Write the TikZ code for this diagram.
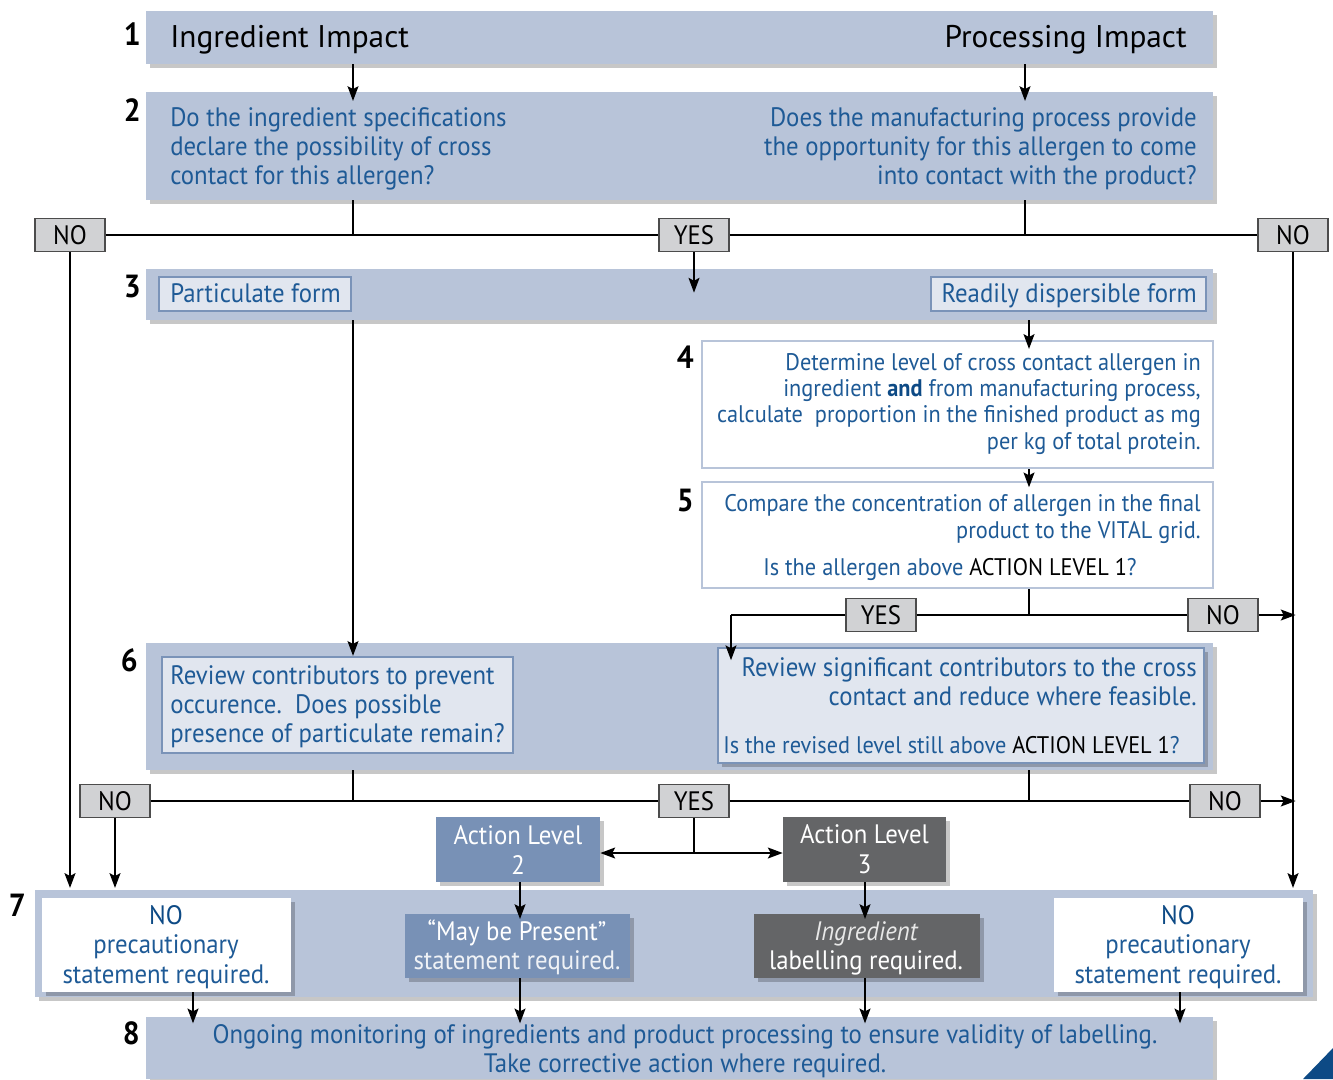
\documentclass[tikz,border=0pt]{standalone}
\usepackage{fontspec}
\setmainfont{PT Sans}
\newfontfamily\condf[FakeStretch=0.93]{PT Sans}
\usetikzlibrary{arrows.meta,shadows,fit}
\definecolor{bandc}{HTML}{B8C4D9}
\definecolor{tblue}{HTML}{1E5A96}
\definecolor{innerc}{HTML}{E1E6EF}
\definecolor{innerbc}{HTML}{7A93B8}
\definecolor{altwo}{HTML}{7891B6}
\definecolor{althree}{HTML}{646567}
\definecolor{ync}{HTML}{D1D2D4}
\definecolor{navy}{HTML}{0D4A85}
\tikzset{
  shad/.style={drop shadow={shadow xshift=3pt, shadow yshift=-3pt, opacity=0.22, fill=black}},
  band/.style={fill=bandc, inner sep=0pt, shad},
  ibox/.style={fill=innerc, draw=innerbc, line width=1.6pt, inner sep=0pt},
  wbox/.style={fill=white, draw=bandc, line width=2pt, inner sep=0pt},
  wsbox/.style={fill=white, inner sep=0pt, shad},
  ynbox/.style={fill=ync, draw=black!70, line width=0.8pt, inner sep=0pt, minimum width=52.5pt, minimum height=25pt, font=\condf\fontsize{20}{22}\selectfont},
  tx/.style={inner sep=0pt, text=tblue, font=\condf\fontsize{20}{21.75}\selectfont},
  txs/.style={inner sep=0pt, text=tblue, font=\condf\fontsize{18}{19.7}\selectfont},
  ttl/.style={inner sep=0pt, text=black, font=\fontsize{23.5}{26}\selectfont},
  num/.style={inner sep=0pt, anchor=base east, font=\condf\bfseries\fontsize{24}{25}\selectfont},
  ln/.style={line width=2pt, black},
  arr/.style={ln, -{Stealth[length=11pt,width=8pt,inset=2pt]}},
}
\begin{document}
\begin{tikzpicture}[x=0.75pt,y=-0.75pt]
\path[use as bounding box, fill=white] (0,0) rectangle (1333,1079);
% x guides
\coordinate (cL) at (353,0);
\coordinate (cR) at (1025,0);
\coordinate (cY) at (694,0);
\coordinate (cD) at (1029,0);
\coordinate (cS) at (731,0);
\coordinate (cA2) at (520,0);
\coordinate (cA3) at (865,0);
\coordinate (cW1) at (193,0);
\coordinate (cW2) at (1180,0);
\coordinate (r615) at (0,615);
\coordinate (r853) at (0,853);
\coordinate (r888) at (0,888);

% bands
\node[band, fit={(146,11)(1213,64)}] (b1) {};
\node[band, fit={(146,92)(1213,200)}] (b2) {};
\node[band, fit={(146,269)(1213,320)}] (b3) {};
\node[band, fit={(146,643)(1213,770)}] (b6) {};
\node[band, fit={(35,890)(1313,997)}] (b7) {};
\node[band, fit={(146,1017)(1213,1079)}] (b8) {};

% numbers
\node[num] (n1) at (141,45) {1};
\node[num] (n2) at (141,121) {2};
\node[num] (n3) at (141,297) {3};
\node[num] (n4) at (694,368) {4};
\node[num] (n5) at (694,511) {5};
\node[num] (n6) at (138,671) {6};
\node[num] (n7) at (26,916) {7};
\node[num] (n8) at (140,1044) {8};

% step 1
\node[ttl, anchor=base west] (t1l) at (170,47) {Ingredient Impact};
\node[ttl, anchor=base east] (t1r) at (1187,47) {Processing Impact};

% step 2 (anchor = baseline of last line)
\node[tx, anchor=base west, align=left] (t2l) at (170,184) {Do the ingredient specifications\\declare the possibility of cross\\contact for this allergen?};
\node[tx, anchor=base east, align=right] (t2r) at (1197,184) {Does the manufacturing process provide\\the opportunity for this allergen to come\\into contact with the product?};

% step 3
\node[ibox, fit={(159,277)(351,311)}] (pf) {};
\node[tx, anchor=base west] (pft) at (170,302) {Particulate form};
\node[ibox, fit={(931,277)(1206,311)}] (rd) {};
\node[tx, anchor=base east] (rdt) at (1197,302) {Readily dispersible form};

% step 4
\node[wbox, fit={(702,341)(1213,468)}] (b4) {};
\node[txs, anchor=base east, align=right] (t4) at (1201,449) {Determine level of cross contact allergen in\\ingredient {\bfseries\color{navy}and} from manufacturing process,\\calculate\ \ proportion in the finished product as mg\\per kg of total protein.};

% step 5
\node[wbox, fit={(702,482)(1213,588)}] (b5) {};
\node[txs, anchor=base east, align=right] (t5) at (1201,538) {Compare the concentration of allergen in the final\\product to the VITAL grid.};
\node[txs, anchor=base] (t5q) at (950,575) {Is the allergen above {\color{black}ACTION LEVEL 1}?};

% step 6
\node[ibox, fit={(162,657)(513,753)}] (r6l) {};
\node[tx, anchor=base west, align=left] (t6l) at (170,742) {Review contributors to prevent\\occurence.\ \ Does possible\\presence of particulate remain?};
\node[ibox, shad, fit={(718,648)(1204,763)}] (r6r) {};
\node[tx, anchor=base east, align=right] (t6r) at (1197,705) {Review significant contributors to the cross\\contact and reduce where feasible.};
\node[txs, anchor=base west] (t6q) at (723,753) {Is the revised level still above {\color{black}ACTION LEVEL 1}?};

% action levels
\node[fill=altwo, shad, inner sep=0pt, fit={(436,817)(600,882)}] (al2) {};
\node[tx, text=white, align=center, font=\condf\fontsize{20}{22.5}\selectfont] (al2t) at (al2.center) {Action Level\\2};
\node[fill=althree, shad, inner sep=0pt, fit={(783,817)(946,882)}] (al3) {};
\node[tx, text=white, align=center, font=\condf\fontsize{20}{22.5}\selectfont] (al3t) at (al3.center) {Action Level\\3};

% step 7
\node[wsbox, fit={(42,898)(291,992)}] (w1) {};
\node[tx, anchor=base, align=center, font=\condf\fontsize{20}{22.1}\selectfont] (w1t) at (166,983) {{\color{navy}NO}\\precautionary\\statement required.};
\node[wsbox, fit={(1054,898)(1303,992)}] (w2) {};
\node[tx, anchor=base, align=center, font=\condf\fontsize{20}{22.1}\selectfont] (w2t) at (1178,983) {{\color{navy}NO}\\precautionary\\statement required.};
\node[fill=altwo, shad, inner sep=0pt, fit={(405,914)(630,978)}] (mp) {};
\node[tx, text=white, anchor=base, align=center, font=\condf\fontsize{20}{21.75}\selectfont] (mpt) at (517,969) {\char"201C May be Present\char"201D\\{\color{white!88!altwo}statement required.}};
\node[fill=althree, shad, inner sep=0pt, fit={(754,914)(980,978)}] (ig) {};
\node[tx, text=white, anchor=base, align=center, font=\condf\fontsize{20}{21.75}\selectfont] (igt) at (866,969) {{\color{white!85!althree}\itshape Ingredient}\\labelling required.};

% step 8
\node[tx, anchor=base, align=center] (t8) at (685,1072) {Ongoing monitoring of ingredients and product processing to ensure validity of labelling.\\Take corrective action where required.};

% yes/no boxes
\node[ynbox] (no1) at (70,235) {NO};
\node[ynbox] (yes1) at (694,235) {YES};
\node[ynbox] (no2) at (1293,235) {NO};
\node[ynbox] (yes2) at (881,615) {YES};
\node[ynbox] (no3) at (1223,615) {NO};
\node[ynbox] (no4) at (115,801) {NO};
\node[ynbox] (yes3) at (694,801) {YES};
\node[ynbox] (no5) at (1225,801) {NO};

% connectors step1 -> step2
\draw[arr, shorten >=-7pt] (b1.south -| cL) -- (b2.north -| cL);
\draw[arr, shorten >=-7pt] (b1.south -| cR) -- (b2.north -| cR);
% step2 -> decision line
\draw[ln] (b2.south -| cL) -- (cL |- no1.east);
\draw[ln] (b2.south -| cR) -- (cR |- yes1.east);
\draw[ln] (no1.east) -- (yes1.west);
\draw[ln] (yes1.east) -- (no2.west);
\draw[arr, shorten >=-18pt] (yes1.south) -- (b3.north -| yes1.south);
\draw[arr] (no1.south) -- (no1.south |- r888);
\draw[arr] (no2.south) -- (no2.south |- r888);
% step3
\draw[arr] (b3.south -| cL) -- (r6l.north -| cL);
\draw[arr, shorten >=-7pt] (b3.south -| cD) -- (b4.north -| cD);
\draw[arr, shorten >=-5pt] (b4.south -| cD) -- (b5.north -| cD);
% step5 decision
\draw[ln] (b5.south -| cD) -- (cD |- r615);
\draw[ln] (yes2.west) -- (cS |- r615);
\draw[arr, shorten >=-10pt] (cS |- r615) -- (r6r.north -| cS);
\draw[ln] (yes2.east) -- (no3.west);
\draw[arr, shorten >=-2pt] (no3.east) -- (no2.south |- no3.east);
% step6 decision
\draw[ln] (b6.south -| cL) -- (cL |- no4.east);
\draw[ln] (b6.south -| cD) -- (cD |- no5.west);
\draw[ln] (no4.east) -- (yes3.west);
\draw[ln] (yes3.east) -- (no5.west);
\draw[arr, shorten >=-2pt] (no5.east) -- (no2.south |- no5.east);
\draw[arr] (no4.south) -- (no4.south |- r888);
\draw[ln] (yes3.south) -- (cY |- r853);
\draw[arr] (cY |- r853) -- (al2.east |- r853);
\draw[arr] (cY |- r853) -- (al3.west |- r853);
% action levels -> step7
\draw[arr, shorten >=-4pt] (al2.south -| cA2) -- (mp.north -| cA2);
\draw[arr, shorten >=-4pt] (al3.south -| cA3) -- (ig.north -| cA3);
% step7 -> step8
\draw[arr, shorten >=-5pt] (w1.south -| cW1) -- (b8.north -| cW1);
\draw[arr, shorten >=-5pt] (mp.south -| cA2) -- (b8.north -| cA2);
\draw[arr, shorten >=-5pt] (ig.south -| cA3) -- (b8.north -| cA3);
\draw[arr, shorten >=-5pt] (w2.south -| cW2) -- (b8.north -| cW2);

% corner triangle
\fill[navy] (1333,1048) -- (1333,1079) -- (1303,1079) -- cycle;
\end{tikzpicture}
\end{document}
